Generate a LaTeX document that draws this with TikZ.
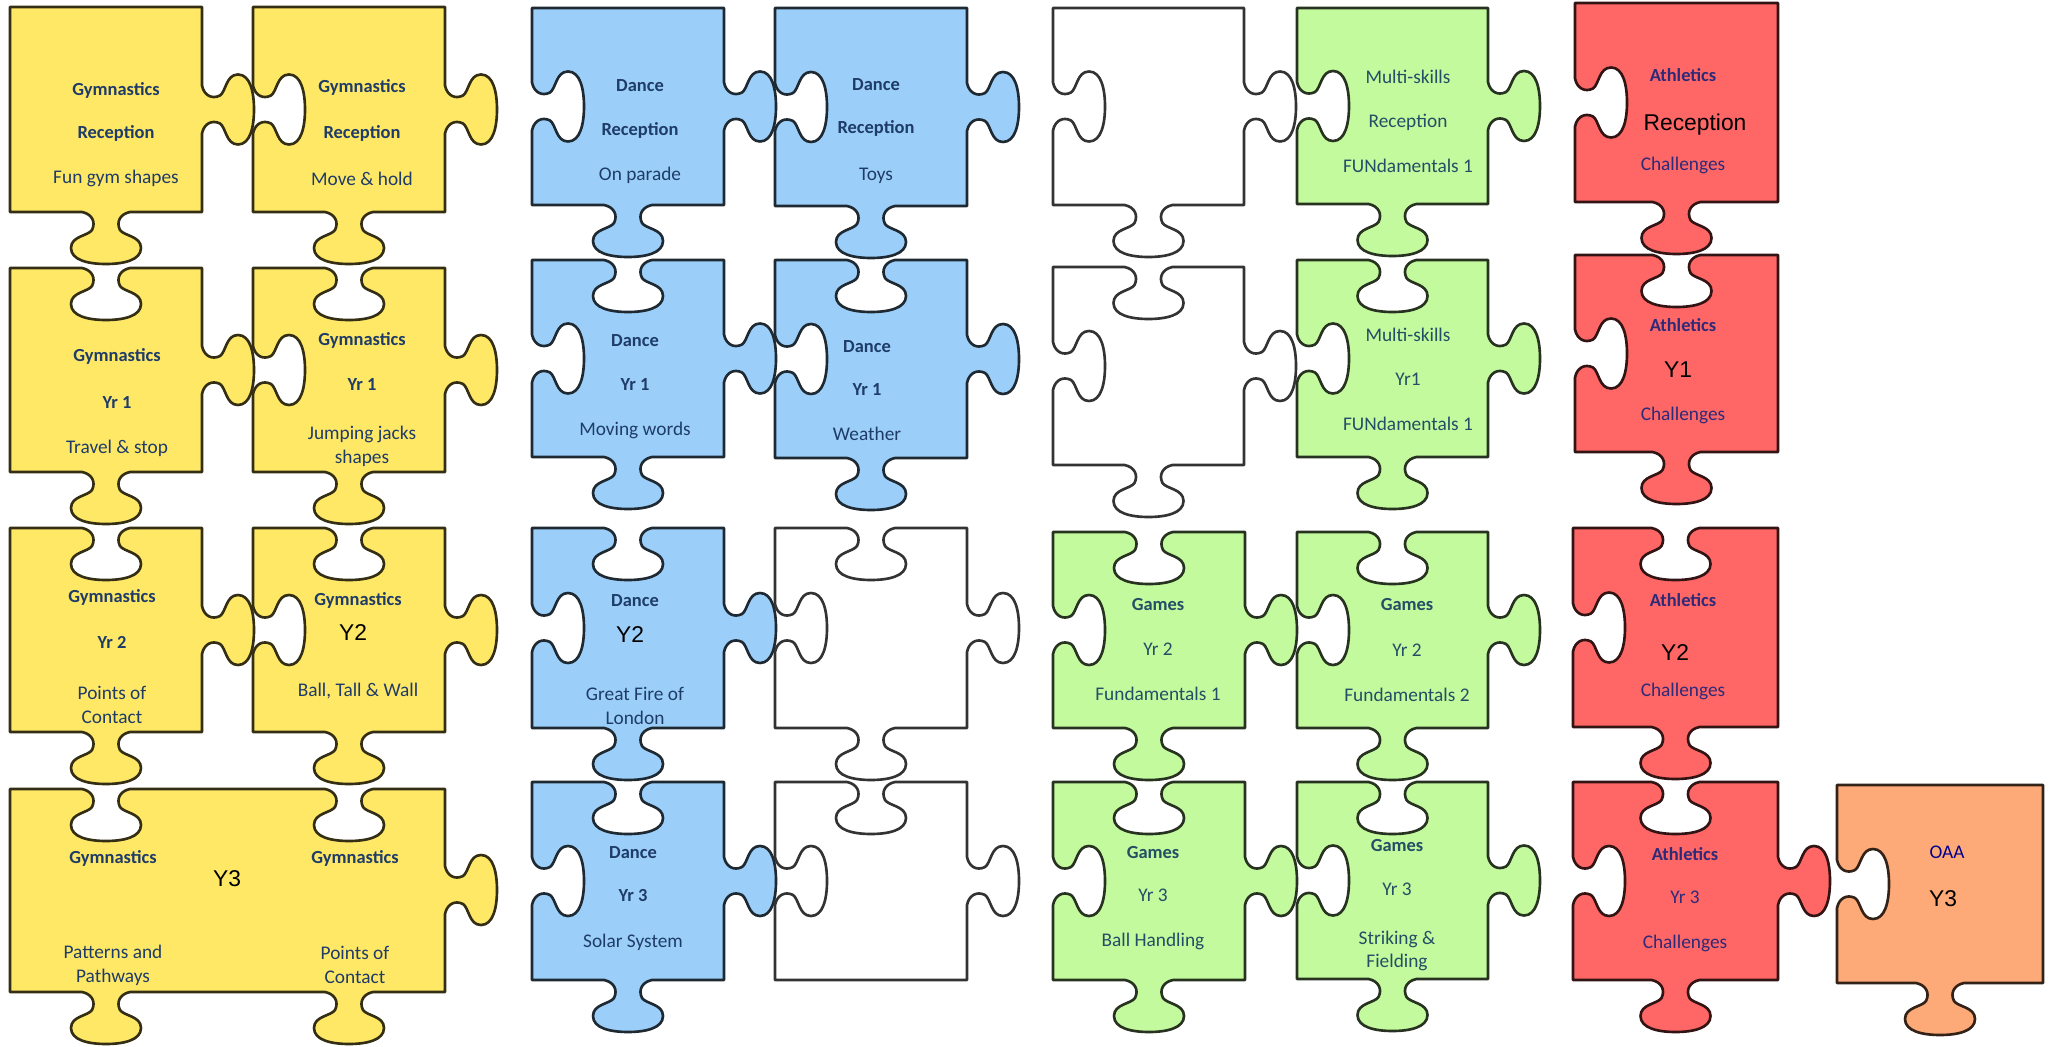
\documentclass[tikz,border=0pt]{standalone}
\usepackage{fontspec}
\newfontfamily\calibrifont{Carlito}
\newfontfamily\arialfont{Liberation Sans}
\definecolor{gymyellow}{HTML}{FFE866}
\definecolor{danceblue}{HTML}{9BCFFA}
\definecolor{gamesgreen}{HTML}{C3FA9E}
\definecolor{athred}{HTML}{FF6666}
\definecolor{oaaorange}{HTML}{FDAA78}
\definecolor{inkblue}{HTML}{1F3C68}
\definecolor{inkteal}{HTML}{234E66}
\definecolor{inkpurple}{HTML}{2E2A78}
\tikzset{
	piece/.style={draw=#1!20!black, fill=#1, line width=1.5pt, line join=round},
	hd/.style={anchor=mid, text=inkblue, font=\calibrifont\fontsize{10.5}{12}\selectfont\bfseries},
	tx/.style={anchor=mid, text=inkblue, align=center, font=\calibrifont\fontsize{11}{13.5}\selectfont},
	big/.style={anchor=mid, text=black, font=\arialfont\fontsize{13}{15}\selectfont},
	teal/.style={text=inkteal},
	purple/.style={text=inkpurple}
}
% one knob on an edge: centre x, centre y, direction of travel, 1 = out / -1 = in
\newcommand\knob[4]{%
	{[shift={({#1},{#2})}, rotate=#3, yscale=#4]
	-- (-24,0) .. controls (-14,-2) and (-10,-10) .. (-14,-18)
	.. controls (-18,-24) and (-35,-24) .. (-35,-36)
	.. controls (-35,-48) and (-18,-52) .. (0,-52)
	.. controls (18,-52) and (35,-48) .. (35,-36)
	.. controls (35,-24) and (18,-24) .. (14,-18)
	.. controls (10,-10) and (14,-2) .. (24,0)}}
\newcommand\knobout[3]{\knob{#1}{#2}{#3}{1}}
\newcommand\knobin[3]{\knob{#1}{#2}{#3}{-1}}
\newcommand\knobnone[3]{}
% colour, x0, y0, x1, y1, top, right, bottom, left
\newcommand\piece[9]{%
	\draw[piece=#1] (#2,#3) #6{(#2+#4)/2}{#3}{0} -- (#4,#3)
		#7{#4}{(#3+#5)/2}{-90} -- (#4,#5)
		#8{(#2+#4)/2}{#5}{180} -- (#2,#5)
		#9{#2}{(#3+#5)/2}{90} -- cycle;}

\begin{document}
\begin{tikzpicture}[x=0.02cm, y=-0.02cm]
\useasboundingbox (0,0) rectangle (2049,1047);

% reception
\piece{gymyellow}{10}{7}{202}{212}{\knobnone}{\knobout}{\knobout}{\knobnone}
\piece{gymyellow}{253}{7}{445}{212}{\knobnone}{\knobout}{\knobout}{\knobin}
\piece{danceblue}{532}{8}{724}{205}{\knobnone}{\knobout}{\knobout}{\knobin}
\piece{danceblue}{775}{8}{967}{206}{\knobnone}{\knobout}{\knobout}{\knobin}
\piece{white}{1053}{8}{1244}{205}{\knobnone}{\knobout}{\knobout}{\knobin}
\piece{gamesgreen}{1297}{8}{1488}{204}{\knobnone}{\knobout}{\knobout}{\knobin}
\piece{athred}{1575}{3}{1778}{202}{\knobnone}{\knobnone}{\knobout}{\knobin}

% year 1
\piece{gymyellow}{10}{268}{202}{472}{\knobin}{\knobout}{\knobout}{\knobnone}
\piece{gymyellow}{253}{268}{445}{472}{\knobin}{\knobout}{\knobout}{\knobin}
\piece{danceblue}{532}{260}{724}{457}{\knobin}{\knobout}{\knobout}{\knobin}
\piece{danceblue}{775}{260}{967}{458}{\knobin}{\knobout}{\knobout}{\knobin}
\piece{white}{1053}{267}{1244}{465}{\knobin}{\knobout}{\knobout}{\knobin}
\piece{gamesgreen}{1297}{260}{1488}{457}{\knobin}{\knobout}{\knobout}{\knobin}
\piece{athred}{1575}{255}{1778}{452}{\knobin}{\knobnone}{\knobout}{\knobin}

% year 2
\piece{gymyellow}{10}{528}{202}{732}{\knobin}{\knobout}{\knobout}{\knobnone}
\piece{gymyellow}{253}{528}{445}{732}{\knobin}{\knobout}{\knobout}{\knobin}
\piece{danceblue}{532}{528}{724}{728}{\knobin}{\knobout}{\knobout}{\knobin}
\piece{white}{775}{528}{967}{728}{\knobin}{\knobout}{\knobout}{\knobin}
\piece{gamesgreen}{1053}{532}{1245}{728}{\knobin}{\knobout}{\knobout}{\knobin}
\piece{gamesgreen}{1297}{532}{1488}{728}{\knobin}{\knobout}{\knobout}{\knobin}
\piece{athred}{1573}{528}{1778}{727}{\knobin}{\knobnone}{\knobout}{\knobin}

% year 3
\draw[piece=gymyellow] (10,789) \knobin{106}{789}{0} \knobin{349}{789}{0} -- (445,789)
	\knobout{445}{890}{-90} -- (445,992)
	\knobout{349}{992}{180} \knobout{106}{992}{180} -- (10,992) -- cycle;
\piece{danceblue}{532}{782}{724}{980}{\knobin}{\knobout}{\knobout}{\knobin}
\piece{white}{775}{782}{967}{980}{\knobin}{\knobout}{\knobnone}{\knobin}
\piece{gamesgreen}{1053}{782}{1245}{980}{\knobin}{\knobout}{\knobout}{\knobin}
\piece{gamesgreen}{1297}{782}{1488}{979}{\knobin}{\knobout}{\knobout}{\knobin}
\piece{athred}{1573}{782}{1778}{980}{\knobin}{\knobout}{\knobout}{\knobin}
\piece{oaaorange}{1837}{785}{2043}{983}{\knobnone}{\knobnone}{\knobout}{\knobin}

% labels, reception
\node[hd] (p11s) at (116,92) {Gymnastics};
\node[hd] (p11y) at (116,135) {Reception};
\node[tx] (p11t) at (116,180) {Fun gym shapes};
\node[hd] (p12s) at (362,89) {Gymnastics};
\node[hd] (p12y) at (362,135) {Reception};
\node[tx] (p12t) at (362,182) {Move \& hold};
\node[hd] (p13s) at (640,88) {Dance};
\node[hd] (p13y) at (640,132) {Reception};
\node[tx] (p13t) at (640,177) {On parade};
\node[hd] (p14s) at (876,87) {Dance};
\node[hd] (p14y) at (876,130) {Reception};
\node[tx] (p14t) at (876,177) {Toys};
\node[tx,teal] (p16s) at (1408,80) {Multi-skills};
\node[tx,teal] (p16y) at (1408,124) {Reception};
\node[tx,teal] (p16t) at (1408,169) {FUNdamentals 1};
\node[hd,purple] (p17s) at (1683,78) {Athletics};
\node[big] (p17y) at (1695,127) {Reception};
\node[tx,purple] (p17t) at (1683,167) {Challenges};

% labels, year 1
\node[hd] (p21s) at (117,358) {Gymnastics};
\node[hd] (p21y) at (117,405) {Yr 1};
\node[tx] (p21t) at (117,450) {Travel \& stop};
\node[hd] (p22s) at (362,342) {Gymnastics};
\node[hd] (p22y) at (362,387) {Yr 1};
\node[tx,anchor=center] (p22t) at (362,446) {Jumping jacks\\shapes};
\node[hd] (p23s) at (635,343) {Dance};
\node[hd] (p23y) at (635,387) {Yr 1};
\node[tx] (p23t) at (635,432) {Moving words};
\node[hd] (p24s) at (867,349) {Dance};
\node[hd] (p24y) at (867,392) {Yr 1};
\node[tx] (p24t) at (867,437) {Weather};
\node[tx,teal] (p26s) at (1408,338) {Multi-skills};
\node[tx,teal] (p26y) at (1408,382) {Yr1};
\node[tx,teal] (p26t) at (1408,427) {FUNdamentals 1};
\node[hd,purple] (p27s) at (1683,328) {Athletics};
\node[big] (p27y) at (1678,374) {Y1};
\node[tx,purple] (p27t) at (1683,417) {Challenges};

% labels, year 2
\node[hd] (p31s) at (112,599) {Gymnastics};
\node[hd] (p31y) at (112,645) {Yr 2};
\node[tx,anchor=center] (p31t) at (112,705) {Points of\\Contact};
\node[hd] (p32s) at (358,602) {Gymnastics};
\node[big] (p32y) at (353,637) {Y2};
\node[tx] (p32t) at (358,693) {Ball, Tall \& Wall};
\node[hd] (p33s) at (635,603) {Dance};
\node[big] (p33y) at (630,639) {Y2};
\node[tx,anchor=center] (p33t) at (635,706) {Great Fire of\\London};
\node[hd,teal] (p35s) at (1158,607) {Games};
\node[tx,teal] (p35y) at (1158,652) {Yr 2};
\node[tx,teal] (p35t) at (1158,697) {Fundamentals 1};
\node[hd,teal] (p36s) at (1407,607) {Games};
\node[tx,teal] (p36y) at (1407,653) {Yr 2};
\node[tx,teal] (p36t) at (1407,698) {Fundamentals 2};
\node[hd,purple] (p37s) at (1683,603) {Athletics};
\node[big] (p37y) at (1675,657) {Y2};
\node[tx,purple] (p37t) at (1683,693) {Challenges};

% labels, year 3
\node[hd] (p41s) at (113,860) {Gymnastics};
\node[big] (p41y) at (227,883) {Y3};
\node[hd] (p42s) at (355,860) {Gymnastics};
\node[tx,anchor=center] (p41t) at (113,965) {Patterns and\\Pathways};
\node[tx,anchor=center] (p42t) at (355,965) {Points of\\Contact};
\node[hd] (p43s) at (633,855) {Dance};
\node[hd] (p43y) at (633,898) {Yr 3};
\node[tx] (p43t) at (633,944) {Solar System};
\node[hd,teal] (p45s) at (1153,855) {Games};
\node[tx,teal] (p45y) at (1153,898) {Yr 3};
\node[tx,teal] (p45t) at (1153,943) {Ball Handling};
\node[hd,teal] (p46s) at (1397,848) {Games};
\node[tx,teal] (p46y) at (1397,892) {Yr 3};
\node[tx,teal,anchor=center] (p46t) at (1397,951) {Striking \&\\Fielding};
\node[hd,purple] (p47s) at (1685,857) {Athletics};
\node[tx,purple] (p47y) at (1685,900) {Yr 3};
\node[tx,purple] (p47t) at (1685,945) {Challenges};
\node[tx,text=blue!55!black] (p48s) at (1947,855) {OAA};
\node[big] (p48y) at (1943,903) {Y3};

\end{tikzpicture}
\end{document}
